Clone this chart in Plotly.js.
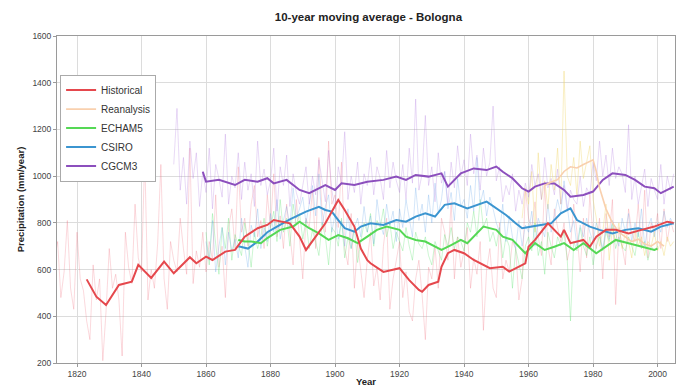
<!DOCTYPE html>
<html>
<head>
<meta charset="utf-8">
<script src="https://cdn.plot.ly/plotly-3.0.1.min.js"></script>
<style>html,body{margin:0;padding:0;background:#fff;}#chart{width:676px;height:387px;}</style>
</head>
<body>
<div id="chart"></div>
<script>
// ---------- Annual series ----------
const histStart = 1813;
const histAnnual = [
 640,720,480,590,810,520,430,760,560,510,
 380,300,620,470,560,210,420,690,520,580,
 470,230,760,610,540,880,650,590,1090,470,
 600,520,710,1050,560,430,720,640,590,820,
 690,580,1120,540,680,610,760,590,720,640,
 920,610,700,480,780,860,690,1040,760,820,
 700,880,960,740,810,690,920,780,1010,740,
 830,690,880,760,620,900,710,560,820,780,
 940,690,1080,850,760,1150,880,920,780,1060,
 690,620,840,520,710,590,480,640,760,530,
 610,470,700,820,430,560,650,720,480,590,
 420,380,560,640,490,300,610,560,700,520,
 820,760,640,890,560,740,610,680,780,520,
 650,580,720,340,600,690,520,480,800,560,
 640,590,720,690,470,560,940,820,780,890,
 740,660,960,700,620,860,780,720,800,640,
 700,880,760,590,820,650,920,740,690,820,
 560,840,740,900,450,780,700,620,860,760,
 720,880,700,940,650,800,760,840,690,860,
 720,810,760];

const reanStart = 1958;
const reanAnnual = [
 820,950,880,1020,760,1100,900,980,860,1050,
 940,1120,880,1450,1000,960,1080,920,1150,990,
 1060,1130,900,820,700,760,880,640,780,720,
 800,690,760,720,650,780,700,740,660,720,
 700,760,680,720,660,740,700,720];

const echamStart = 1860;
const echamAnnual = [
 760,620,840,700,580,780,690,820,640,750,
 700,660,800,720,610,760,690,740,820,700,
 780,850,720,900,760,820,700,880,790,840,
 730,810,690,770,720,660,800,740,620,780,
 760,700,820,650,740,690,780,630,720,800,
 760,840,700,810,780,860,740,800,690,760,
 720,680,780,700,640,760,710,690,740,660,
 620,720,680,640,750,700,780,690,740,720,
 680,800,760,850,740,900,780,820,720,760,
 700,780,650,740,700,520,690,620,560,700,
 740,680,800,660,720,580,760,700,650,740,
 700,760,640,380,720,680,780,700,660,740,
 620,700,740,680,760,720,800,690,740,700,
 680,740,700,660,760,690,720,640,700,680,
 700];

const csiroStart = 1860;
const csiroAnnual = [
 720,640,810,590,700,780,620,760,680,730,
 650,820,700,610,790,740,860,690,780,720,
 840,760,900,730,810,870,780,950,820,860,
 910,800,880,960,830,1010,790,870,920,760,
 840,730,810,700,860,690,780,820,740,870,
 760,830,710,900,800,750,880,790,850,720,
 860,780,900,820,740,950,810,880,760,920,
 800,970,840,900,1020,860,930,810,990,870,
 900,820,960,850,1080,880,940,830,910,860,
 800,760,880,720,830,740,690,810,700,790,
 760,850,700,820,780,740,880,760,830,900,
 840,980,870,760,810,700,790,740,820,760,
 720,800,750,690,780,730,810,760,700,820,
 760,840,720,800,740,860,700,780,820,740,
 800,760,850,780,820,790];

const cgcmStart = 1850;
const cgcmAnnual = [
 1050,1290,940,1080,880,1150,990,1100,870,1020,
 930,1120,860,1050,990,910,1180,880,1000,950,
 1100,900,1060,940,1010,870,1150,960,1030,920,
 980,1120,850,1040,960,1090,870,1010,930,880,
 960,1040,880,1000,920,1070,980,890,1110,940,
 860,1040,970,1190,900,1000,930,1060,880,1010,
 960,1080,920,1040,990,900,1110,950,1060,980,
 930,1050,900,1120,970,1330,940,1010,1260,960,
 1040,890,1100,970,1020,880,1060,950,1130,1000,
 1070,960,1180,1010,1090,940,1120,1000,1060,1300,
 980,1040,890,960,920,1010,850,940,880,970,
 910,1050,960,1010,900,1080,950,990,920,1030,
 880,960,850,940,900,880,1000,870,950,920,
 1060,980,1150,1000,1090,960,1120,990,1040,1010,
 930,1220,900,1000,880,960,1030,870,990,940,
 900,1050,880,1000,940,1010];

// ---------- 10-year moving averages ----------
const histMAYears = [1823,1826,1829,1833,1837,1839,1843,1847,1850,1853,1855,1857,1860,1862,1866,1869,1872,1876,1879,1881,1886,1889,1891,1894,1897,1901,1903,1906,1908,1910,1911,1915,1918,1920,1923,1926,1927,1929,1932,1933,1935,1937,1940,1943,1948,1952,1954,1957,1959,1960,1962,1966,1968,1970,1971,1973,1977,1979,1981,1984,1987,1991,1995,1999,2003,2005];
const histMA = [558,484,448,534,548,620,564,634,584,627,653,627,655,641,677,684,741,777,791,812,798,741,684,741,798,898,855,784,690,640,627,590,598,606,555,513,505,534,548,612,670,684,670,641,606,612,591,612,627,698,727,798,770,741,770,713,727,698,741,770,770,755,770,784,805,800];

const reanMAYears = [1965,1967,1969,1971,1973,1975,1977,1979,1980,1981,1982,1984,1986,1988,1990,1992,1994,1996,1998,2000,2002];
const reanMA = [960,975,985,1020,1040,1035,1050,1065,1070,1020,950,860,800,760,740,720,730,710,700,720,700];

const echamMAYears = [1870,1872,1874,1877,1879,1883,1887,1889,1892,1895,1898,1901,1904,1907,1910,1913,1916,1920,1922,1925,1928,1931,1933,1936,1939,1941,1943,1946,1950,1952,1955,1958,1959,1962,1965,1968,1971,1974,1977,1981,1984,1987,1991,1995,1999,2000];
const echamMA = [727,720,720,713,735,770,784,805,777,755,727,748,734,713,741,770,784,770,741,727,720,698,684,705,727,713,741,784,770,741,727,684,670,713,684,698,713,684,713,670,698,727,713,698,684,690];

const csiroMAYears = [1870,1873,1876,1879,1882,1886,1891,1895,1897,1899,1901,1903,1906,1908,1911,1915,1919,1922,1925,1928,1931,1934,1937,1941,1947,1950,1953,1956,1958,1961,1964,1967,1970,1973,1975,1979,1982,1986,1990,1994,1998,2001,2005];
const csiroMA = [700,690,720,760,784,815,848,869,855,848,812,777,762,784,798,791,812,805,827,841,827,877,884,862,891,862,834,798,777,784,791,798,841,862,812,784,770,755,770,777,762,784,798];

const cgcmMAYears = [1859,1860,1864,1869,1872,1876,1879,1881,1885,1889,1892,1894,1897,1900,1902,1906,1910,1915,1919,1922,1925,1929,1933,1935,1937,1939,1943,1947,1950,1952,1955,1958,1960,1962,1965,1968,1971,1973,1977,1980,1983,1986,1990,1993,1996,1999,2001,2005];
const cgcmMA = [1019,976,984,962,984,976,991,969,984,941,927,941,962,941,969,962,976,984,998,984,1005,998,1012,955,984,1012,1033,1026,1041,1019,991,948,934,955,969,969,941,912,919,934,984,1012,1005,984,955,948,927,955];

const names = ['Historical','Reanalysis','ECHAM5','CSIRO','CGCM3'];
const maColors = ['#e5484d','#f9d0ae','#55d855','#3b95d0','#8c4fbd'];
const annColors = ['rgba(238,110,125,0.26)','rgba(240,215,110,0.40)','rgba(90,225,110,0.30)','rgba(90,160,230,0.26)','rgba(175,120,220,0.27)'];

function yearsFrom(start, arr){ return arr.map((_, i) => start + i); }

const annual = [
  [histStart, histAnnual],[reanStart, reanAnnual],[echamStart, echamAnnual],[csiroStart, csiroAnnual],[cgcmStart, cgcmAnnual]
];
const ma = [
  [histMAYears, histMA],[reanMAYears, reanMA],[echamMAYears, echamMA],[csiroMAYears, csiroMA],[cgcmMAYears, cgcmMA]
];

const traces = [];
annual.forEach((a, i) => {
  traces.push({x: yearsFrom(a[0], a[1]), y: a[1], type:'scatter', mode:'lines',
    line:{color: annColors[i], width:1}, showlegend:false, hoverinfo:'skip'});
});
const order = [4,3,1,2,0];
order.forEach(i => {
  traces.push({x: ma[i][0], y: ma[i][1], type:'scatter', mode:'lines', name: names[i],
    line:{color: maColors[i], width: i === 1 ? 1.6 : 2}, legendrank: i+1});
});

const layout = {
  width:676, height:387,
  margin:{l:57, r:1, t:36, b:24},
  paper_bgcolor:'#fff', plot_bgcolor:'#fff',
  font:{family:'"Liberation Sans", Arial, sans-serif', size:9, color:'#333'},
  title:{text:'<b>10-year moving average - Bologna</b>', x:0.545, xanchor:'center', y:0.955, yanchor:'middle',
    font:{size:11.5, color:'#222'}},
  xaxis:{range:[1813.8,2005.4], tickvals:[1820,1840,1860,1880,1900,1920,1940,1960,1980,2000],
    showgrid:true, gridcolor:'#dcdcdc', gridwidth:1, zeroline:false,
    showline:true, linecolor:'#9a9a9a', mirror:true, ticks:'outside', ticklen:3, tickcolor:'#9a9a9a',
    tickfont:{size:8.5, color:'#444'},
    title:{text:'<b>Year</b>', font:{size:9.5, color:'#222'}, standoff:1}},
  yaxis:{range:[200,1600], tickvals:[200,400,600,800,1000,1200,1400,1600],
    showgrid:true, gridcolor:'#dcdcdc', gridwidth:1, zeroline:false,
    showline:true, linecolor:'#9a9a9a', mirror:true, ticks:'outside', ticklen:3, tickcolor:'#9a9a9a',
    tickfont:{size:8.5, color:'#444'},
    title:{text:'<b>Precipitation (mm/year)</b>', font:{size:9.5, color:'#222'}, standoff:6}},
  legend:{x:0.005, y:0.882, xanchor:'left', yanchor:'top', bgcolor:'#fff', bordercolor:'#aaa', borderwidth:1,
    font:{size:10, color:'#333'}, tracegroupgap:0, itemwidth:30, traceorder:'normal'},
  showlegend:true
};

Plotly.newPlot('chart', traces, layout, {staticPlot:true, displayModeBar:false});
</script>
</body>
</html>
